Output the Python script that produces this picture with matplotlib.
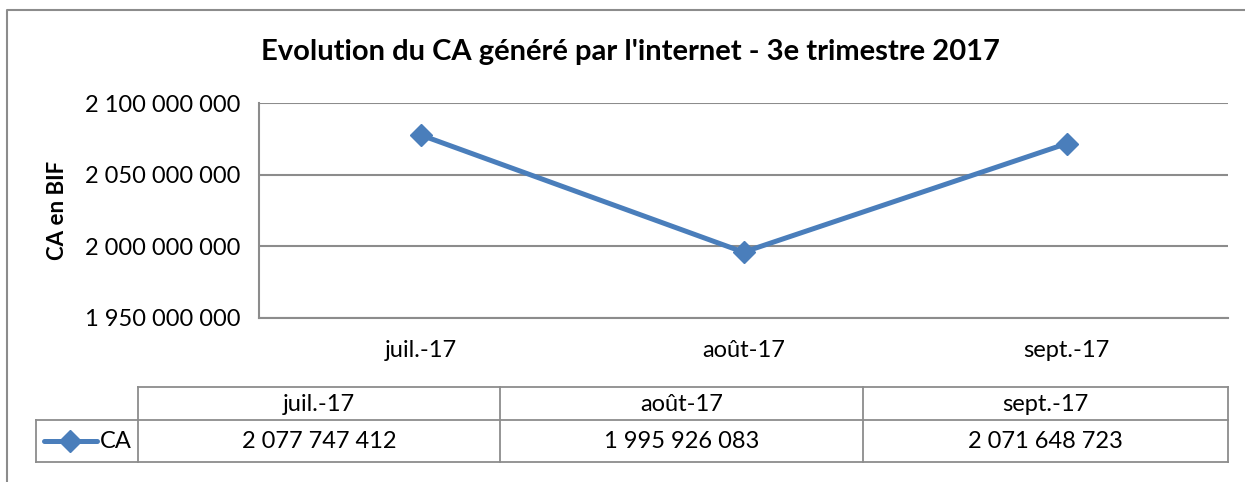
import matplotlib.pyplot as plt
from matplotlib.lines import Line2D
from matplotlib.ticker import FuncFormatter

plt.rcParams["font.family"] = ["Lato", "DejaVu Sans"]

months = ["juil.-17", "août-17", "sept.-17"]
ca_values = [2077747412, 1995926083, 2071648723]
series_name = "CA"
y_ticks = [1950000000, 2000000000, 2050000000, 2100000000]

W, H = 1245, 482
LINE_COLOR = "#4A7EBB"
GRID_COLOR = "#8C8C8C"
FS = 17


def fmt_space(v, pos=None):
    return f"{int(round(v)):,}".replace(",", " ")


fig = plt.figure(figsize=(W / 100, H / 100), dpi=100)

# overlay in pixel coordinates for frame, titles and data table
ov = fig.add_axes([0, 0, 1, 1])
ov.set_xlim(0, W)
ov.set_ylim(H, 0)
ov.axis("off")

ov.plot([7, 7, W + 5], [H + 5, 10, 10], color=GRID_COLOR, lw=1.5)

# plot area
left, right, top, bottom = 259, 1228, 103, 318
ax = fig.add_axes([left / W, 1 - bottom / H, (right - left) / W, (bottom - top) / H])
x = list(range(len(months)))
ax.plot(x, ca_values, color=LINE_COLOR, lw=3.6, marker="D", markersize=11,
        solid_capstyle="round", zorder=3, clip_on=False)
ax.set_xlim(-0.5, len(months) - 0.5)
ax.set_ylim(y_ticks[0], y_ticks[-1])
ax.set_yticks(y_ticks)
ax.yaxis.set_major_formatter(FuncFormatter(fmt_space))
ax.set_xticks(x)
ax.set_xticklabels(months)
ax.tick_params(axis="both", length=0, labelsize=FS, colors="black")
ax.tick_params(axis="y", pad=13.5)
ax.tick_params(axis="x", pad=16)
ax.grid(axis="y", color=GRID_COLOR, lw=1.5)
ax.set_axisbelow(True)
for s in ["top", "right"]:
    ax.spines[s].set_visible(False)
for s in ["left", "bottom"]:
    ax.spines[s].set_color(GRID_COLOR)
    ax.spines[s].set_linewidth(1.5)

fig.text(630 / W, 1 - 52 / H, "Evolution du CA généré par l'internet - 3e trimestre 2017",
         ha="center", va="center", fontsize=21, fontweight="bold")
fig.text(57 / W, 1 - 210 / H, "CA en BIF", ha="center", va="center",
         rotation=90, fontsize=16, fontweight="bold")

# data table
col_edges = [138, 500, 863, 1228]
row_top, row_mid, row_bot = 387, 420, 462
leg_left = 36
tk = dict(color=GRID_COLOR, lw=1.3)
ov.plot([col_edges[0], col_edges[-1]], [row_top, row_top], **tk)
ov.plot([leg_left, col_edges[-1]], [row_mid, row_mid], **tk)
ov.plot([leg_left, col_edges[-1]], [row_bot, row_bot], **tk)
ov.plot([leg_left, leg_left], [row_mid, row_bot], **tk)
for cx in col_edges:
    ov.plot([cx, cx], [row_top, row_bot], **tk)

for i, (m, v) in enumerate(zip(months, ca_values)):
    cx = (col_edges[i] + col_edges[i + 1]) / 2
    ov.text(cx, (row_top + row_mid) / 2 + 1, m, ha="center", va="center", fontsize=FS)
    ov.text(cx, (row_mid + row_bot) / 2, fmt_space(v), ha="center", va="center", fontsize=FS)

ymid = (row_mid + row_bot) / 2
ov.add_line(Line2D([44, 97], [ymid, ymid], color=LINE_COLOR, lw=3.6, solid_capstyle="round"))
ov.plot([70], [ymid], marker="D", markersize=11, color=LINE_COLOR)
ov.text(100, ymid, series_name, ha="left", va="center", fontsize=FS)

fig.savefig("out.png", dpi=100)
